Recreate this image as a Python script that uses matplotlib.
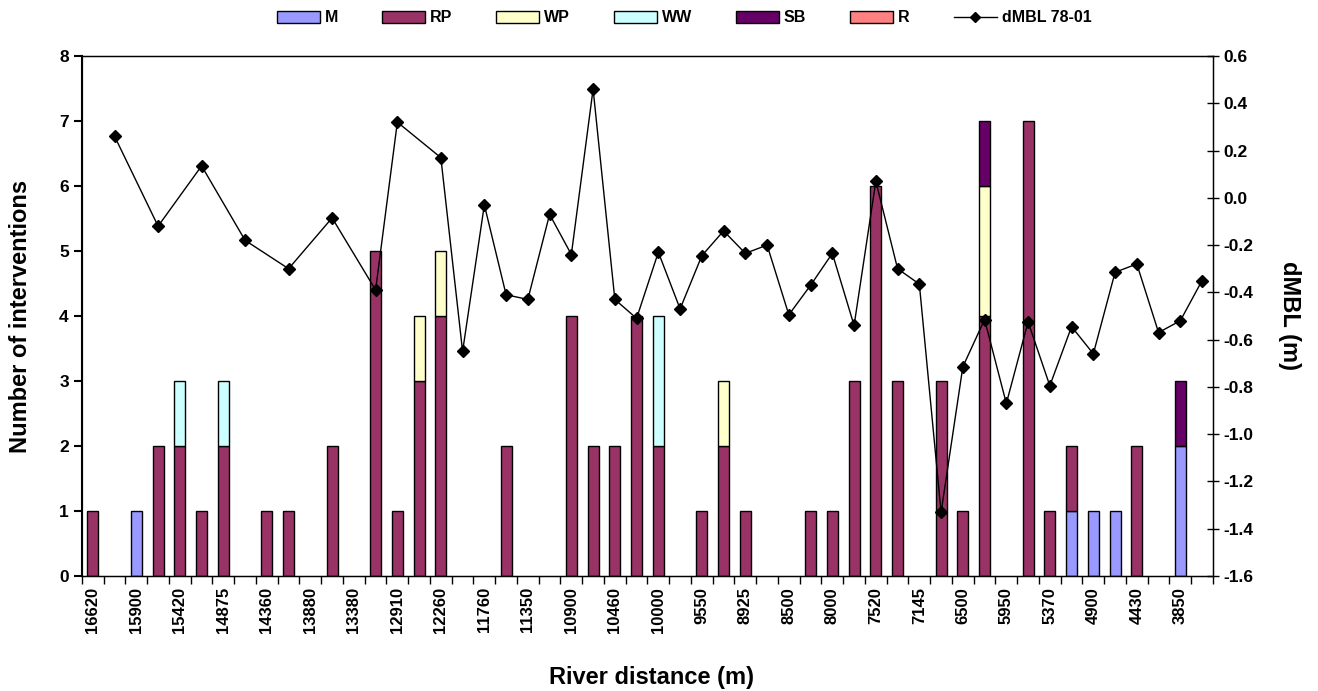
import numpy as np
import matplotlib.pyplot as plt
from matplotlib.patches import Patch
from matplotlib.lines import Line2D

plt.rcParams['font.family'] = ['Liberation Sans', 'DejaVu Sans']
plt.rcParams['font.weight'] = 'bold'

# 52 river sections, labels shown for every other one
n_sections = 52
tick_labels = ['16620', '15900', '15420', '14875', '14360', '13880', '13380',
               '12910', '12260', '11760', '11350', '10900', '10460', '10000',
               '9550', '8925', '8500', '8000', '7520', '7145', '6500', '5950',
               '5370', '4900', '4430', '3850']

# interventions per section: {section index: count}
M  = {2: 1, 45: 1, 46: 1, 47: 1, 50: 2}
RP = {0: 1, 3: 2, 4: 2, 5: 1, 6: 2, 8: 1, 9: 1, 11: 2, 13: 5, 14: 1, 15: 3,
      16: 4, 19: 2, 22: 4, 23: 2, 24: 2, 25: 4, 26: 2, 28: 1, 29: 2, 30: 1,
      33: 1, 34: 1, 35: 3, 36: 6, 37: 3, 39: 3, 40: 1, 41: 4, 43: 7, 44: 1,
      45: 1, 48: 2}
WP = {15: 1, 16: 1, 29: 1, 41: 2}
WW = {4: 1, 6: 1, 26: 2}
SB = {41: 1, 50: 1}
R  = {}

# dMBL 78-01 (m) at the sections where it was measured
dmbl_idx = [1, 3, 5, 7, 9, 11, 13, 14, 16, 17, 18, 19, 20, 21, 22, 23, 24, 25,
            26, 27, 28, 29, 30, 31, 32, 33, 34, 35, 36, 37, 38, 39, 40, 41, 42,
            43, 44, 45, 46, 47, 48, 49, 50, 51]
dmbl = [0.26, -0.12, 0.135, -0.18, -0.30, -0.085, -0.39, 0.32, 0.17, -0.65,
        -0.03, -0.41, -0.43, -0.07, -0.24, 0.46, -0.43, -0.51, -0.23, -0.47,
        -0.245, -0.14, -0.235, -0.20, -0.495, -0.37, -0.235, -0.54, 0.07,
        -0.30, -0.365, -1.33, -0.715, -0.515, -0.87, -0.525, -0.795, -0.545,
        -0.66, -0.315, -0.28, -0.57, -0.52, -0.35]

series = [('M', M, '#9999FF'), ('RP', RP, '#993366'), ('WP', WP, '#FFFFCC'),
          ('WW', WW, '#CCFFFF'), ('SB', SB, '#660066'), ('R', R, '#FF8080')]

fig = plt.figure(figsize=(13.18, 6.91), dpi=100)
ax = fig.add_axes([0.0622, 0.1664, 0.8581, 0.7526])
x = np.arange(n_sections)
bottom = np.zeros(n_sections)
handles = []
for name, d, col in series:
    vals = np.zeros(n_sections)
    for k, v in d.items():
        vals[k] = v
    mask = vals > 0
    ax.bar(x[mask], vals[mask], width=0.5, bottom=bottom[mask], color=col,
           edgecolor='black', linewidth=1, zorder=2)
    bottom += vals
    handles.append(Patch(facecolor=col, edgecolor='black', linewidth=1, label=name))

ax.set_xlim(-0.5, n_sections - 0.5)
ax.set_ylim(0, 8)
ax.set_yticks(range(0, 9))
ax.set_xticks(np.arange(0, n_sections, 2))
ax.set_xticklabels(tick_labels, rotation=90, fontsize=12, fontweight='bold')
ax.set_xticks(np.arange(-0.5, n_sections, 1), minor=True)
ax.tick_params(axis='x', which='major', length=0, pad=8)
ax.tick_params(axis='x', which='minor', length=6, width=1, direction='out')
ax.tick_params(axis='y', length=6, width=1.5, direction='out', labelsize=12.5)
for lab in ax.get_yticklabels():
    lab.set_fontweight('bold')
ax.set_ylabel('Number of interventions', fontsize=17, fontweight='bold', va='center')
ax.yaxis.set_label_coords(-0.0548, 0.5)
ax.set_xlabel('River distance (m)', fontsize=17, fontweight='bold', va='center')
ax.xaxis.set_label_coords(0.504, -0.195)
ax.spines['left'].set_linewidth(1.5)
for s in ['top', 'right', 'bottom']:
    ax.spines[s].set_linewidth(1)

ax2 = ax.twinx()
ax2.plot(dmbl_idx, dmbl, color='black', linewidth=1, marker='D', markersize=6,
         zorder=3)
ax2.set_ylim(-1.6, 0.6)
rticks = np.round(np.arange(-1.6, 0.61, 0.2), 1) + 0.0
ax2.set_yticks(rticks)
ax2.set_yticklabels(['%.1f' % v for v in rticks])
ax2.tick_params(axis='y', length=8, width=1, direction='inout', labelsize=12.5)
for lab in ax2.get_yticklabels():
    lab.set_fontweight('bold')
ax2.set_ylabel('dMBL (m)', fontsize=17, fontweight='bold', rotation=270, va='center')
ax2.yaxis.set_label_coords(1.068, 0.5)

handles.append(Line2D([], [], color='black', linewidth=1, marker='D',
                      markersize=5, label='dMBL 78-01'))
fig.legend(handles=handles, loc='center', bbox_to_anchor=(0.519, 0.974),
           ncol=7, frameon=False, handlelength=2.7,
           handleheight=0.85, handletextpad=0.3, columnspacing=2.75,
           prop={'weight': 'bold', 'size': 11.5})

fig.savefig('out.png', dpi=100)
